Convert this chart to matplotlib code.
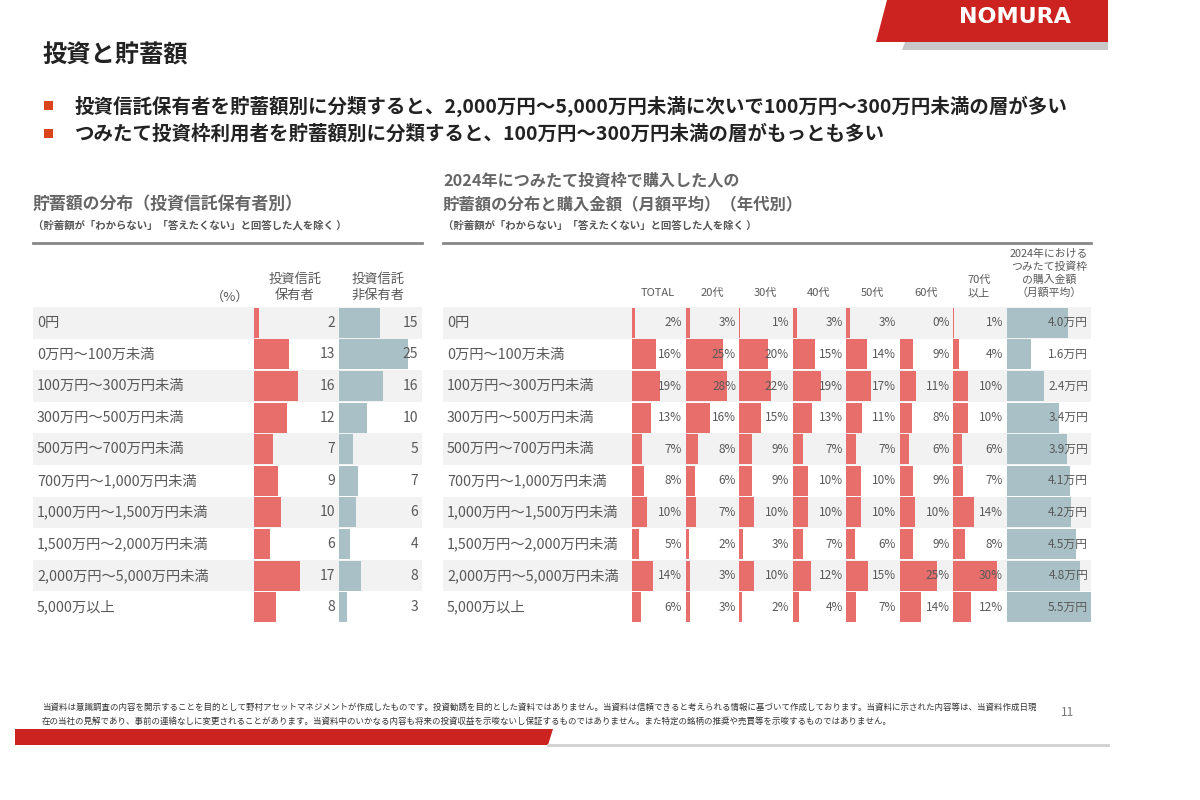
import matplotlib.pyplot as plt
from matplotlib.patches import Polygon, Rectangle

plt.rcParams['font.family'] = ['Noto Sans CJK JP', 'DejaVu Sans']

# ── データ ──────────────────────────────────────────────────────────────
ranges = [
    "0円",
    "0万円～100万未満",
    "100万円～300万円未満",
    "300万円～500万円未満",
    "500万円～700万円未満",
    "700万円～1,000万円未満",
    "1,000万円～1,500万円未満",
    "1,500万円～2,000万円未満",
    "2,000万円～5,000万円未満",
    "5,000万以上",
]
holders = [2, 13, 16, 12, 7, 9, 10, 6, 17, 8]
non_holders = [15, 25, 16, 10, 5, 7, 6, 4, 8, 3]

age_labels = ["TOTAL", "20代", "30代", "40代", "50代", "60代", "70代\n以上"]
share_total = [2, 16, 19, 13, 7, 8, 10, 5, 14, 6]
share_20s = [3, 25, 28, 16, 8, 6, 7, 2, 3, 3]
share_30s = [1, 20, 22, 15, 9, 9, 10, 3, 10, 2]
share_40s = [3, 15, 19, 13, 7, 10, 10, 7, 12, 4]
share_50s = [3, 14, 17, 11, 7, 10, 10, 6, 15, 7]
share_60s = [0, 9, 11, 8, 6, 9, 10, 9, 25, 14]
share_70s = [1, 4, 10, 10, 6, 7, 14, 8, 30, 12]
monthly_amount = [4.0, 1.6, 2.4, 3.4, 3.9, 4.1, 4.2, 4.5, 4.8, 5.5]

bullets = [
    "投資信託保有者を貯蓄額別に分類すると、2,000万円～5,000万円未満に次いで100万円～300万円未満の層が多い",
    "つみたて投資枠利用者を貯蓄額別に分類すると、100万円～300万円未満の層がもっとも多い",
]
disclaimer = [
    "当資料は意識調査の内容を開示することを目的として野村アセットマネジメントが作成したものです。投資勧誘を目的とした資料ではありません。"
    "当資料は信頼できると考えられる情報に基づいて作成しております。当資料に示された内容等は、当資料作成日現",
    "在の当社の見解であり、事前の連絡なしに変更されることがあります。当資料中のいかなる内容も将来の投資収益を示唆ないし保証するものではありません。"
    "また特定の銘柄の推奨や売買等を示唆するものではありません。",
]

# ── スタイル ────────────────────────────────────────────────────────────
W, H = 1200, 800
RED = "#e86e6b"
BLUE = "#a9c0c6"
BAND = "#f2f2f2"
TXT = "#595959"
TOP, BOTTOM = 307, 623

fig = plt.figure(figsize=(12, 8), dpi=100)
bg = fig.add_axes([0, 0, 1, 1])
bg.set_xlim(0, W)
bg.set_ylim(H, 0)
bg.axis("off")


def px_axes(x0, x1, y0=TOP, y1=BOTTOM):
    ax = fig.add_axes([x0 / W, 1 - y1 / H, (x1 - x0) / W, (y1 - y0) / H])
    ax.set_ylim(len(ranges) - 0.5, -0.5)
    ax.axis("off")
    return ax


def table_rows(x0, x1):
    ax = px_axes(x0, x1)
    ax.set_xlim(0, x1 - x0)
    for i in range(0, len(ranges), 2):
        ax.axhspan(i - 0.5, i + 0.5, color=BAND, lw=0)
    for i, r in enumerate(ranges):
        ax.text(4, i, r, ha="left", va="center", fontsize=10.3, color=TXT)


def bar_column(x0, width_px, values, px_per_unit, color, fmt, fs, text_at=1.0):
    ax = px_axes(x0, x0 + width_px)
    ax.set_xlim(0, width_px / px_per_unit)
    ax.barh(range(len(values)), values, height=0.95, color=color, lw=0)
    for i, v in enumerate(values):
        ax.text(text_at, i, fmt(v), transform=ax.get_yaxis_transform(),
                ha="right", va="center", fontsize=fs, color=TXT, zorder=3)


# ── ヘッダー ────────────────────────────────────────────────────────────
bg.add_patch(Polygon([(905, 42), (1108, 42), (1108, 50), (902, 50)], color="#c8c8c8", lw=0))
bg.add_patch(Polygon([(887, 0), (1108, 0), (1108, 42), (876, 42)], color="#cc2320", lw=0))
bg.text(1015, 17, "NOMURA", ha="center", va="center", fontsize=16, fontweight="bold",
        color="white", family="DejaVu Sans")

bg.text(42, 56, "投資と貯蓄額", ha="left", va="center", fontsize=17.5, fontweight="bold", color="#222")
for k, b in enumerate(bullets):
    y = 106 + 28 * k
    bg.add_patch(Rectangle((44, y - 5), 9, 9, color="#d9441c", lw=0))
    bg.text(75, y, b, ha="left", va="center", fontsize=14, fontweight="bold", color="#222")

# ── 左表 ────────────────────────────────────────────────────────────────
bg.text(33, 204, "貯蓄額の分布（投資信託保有者別）", ha="left", va="center",
        fontsize=12.2, fontweight="bold", color="#666")
bg.text(33, 225, "（貯蓄額が「わからない」「答えたくない」と回答した人を除く ）", ha="left", va="center",
        fontsize=7.5, fontweight="bold", color="#555")
bg.plot([33, 422], [243, 243], color="#888", lw=2)
bg.text(230, 297, "（%）", ha="center", va="center", fontsize=9.5, color=TXT)
bg.text(295, 287, "投資信託\n保有者", ha="center", va="center", fontsize=9.5, color=TXT, linespacing=1.3)
bg.text(378, 287, "投資信託\n非保有者", ha="center", va="center", fontsize=9.5, color=TXT, linespacing=1.3)

table_rows(33, 422)
bar_column(254, 81, holders, 2.72, RED, str, 10)
bar_column(339, 79, non_holders, 2.76, BLUE, str, 10)

# ── 右表 ────────────────────────────────────────────────────────────────
bg.text(443, 180, "2024年につみたて投資枠で購入した人の", ha="left", va="center",
        fontsize=11.6, fontweight="bold", color="#666")
bg.text(443, 204, "貯蓄額の分布と購入金額（月額平均）（年代別）", ha="left", va="center",
        fontsize=11.8, fontweight="bold", color="#666")
bg.text(443, 225, "（貯蓄額が「わからない」「答えたくない」と回答した人を除く ）", ha="left", va="center",
        fontsize=7.5, fontweight="bold", color="#555")
bg.plot([443, 1091], [243, 243], color="#888", lw=2)

table_rows(443, 1091)
age_shares = [share_total, share_20s, share_30s, share_40s, share_50s, share_60s, share_70s]
col_starts = [632, 686, 739, 793, 846, 900, 953]
for x0, label, vals in zip(col_starts, age_labels, age_shares):
    bar_column(x0, 50, vals, 1.47, RED, lambda v: f"{v}%", 8.5)
    bg.text(x0 + 26, 298, label, ha="center", va="bottom", fontsize=8, color=TXT, linespacing=1.4)

bar_column(1007, 84, monthly_amount, 15.3, BLUE, lambda v: f"{v:.1f}万円", 8.5, text_at=0.965)
bg.text(1049, 298, "2024年における\nつみたて投資枠\nの購入金額\n（月額平均）", ha="center", va="bottom",
        fontsize=7.8, color=TXT, linespacing=1.3)

# ── フッター ────────────────────────────────────────────────────────────
for k, line in enumerate(disclaimer):
    bg.text(42, 707 + 14 * k, line, ha="left", va="center", fontsize=6.1, color="#333")
bg.text(1068, 713, "11", ha="center", va="center", fontsize=8.5, color="#777")
bg.add_patch(Polygon([(15, 729), (553, 729), (548, 745), (15, 745)], color="#cc2320", lw=0))
bg.plot([548, 1108], [745, 745], color="#d0d0d0", lw=2)

fig.savefig("out.png", dpi=100, facecolor="white")
